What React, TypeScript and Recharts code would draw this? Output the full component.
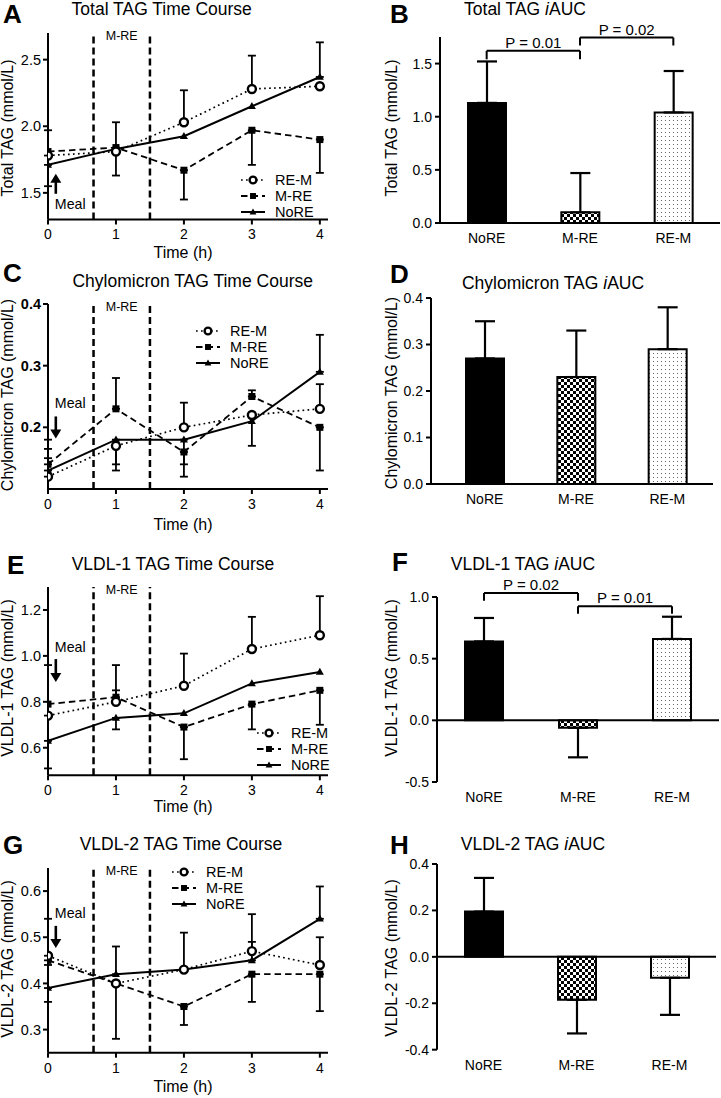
import React from "react";
import {
  LineChart,
  Line,
  BarChart,
  Bar,
  Cell,
  XAxis,
  YAxis,
  ErrorBar,
  ReferenceLine,
  ReferenceArea,
  ReferenceDot,
  Legend,
} from "recharts";

const FONT = '"Liberation Sans", Arial, Helvetica, sans-serif';
const INK = "#000";

// time points (h) and trial conditions
const TIME = [0, 1, 2, 3, 4];
const GROUPS = ["NoRE", "M-RE", "RE-M"];
const EXERCISE = [0.67, 1.5]; // M-RE exercise bout (h)
const MEAL_AT = 0.115;

// A - total TAG time course (mmol/L), mean with visible SEM (up / down)
const TOTAL_REM = [1.78, 1.81, 2.03, 2.28, 2.3];
const TOTAL_REM_UP = [0.19, 0, 0.24, 0.25, 0];
const TOTAL_REM_DN = [0, 0.18, 0, 0, 0];
const TOTAL_MRE = [1.81, 1.84, 1.67, 1.97, 1.9];
const TOTAL_MRE_UP = [0, 0.19, 0, 0, 0];
const TOTAL_MRE_DN = [0, 0, 0.22, 0.26, 0.25];
const TOTAL_NORE = [1.71, 1.83, 1.925, 2.15, 2.37];
const TOTAL_NORE_UP = [0, 0, 0, 0, 0.26];
const TOTAL_NORE_DN = [0.16, 0, 0, 0, 0];

// C - chylomicron TAG
const CHYLO_REM = [0.12, 0.17, 0.2, 0.22, 0.23];
const CHYLO_REM_UP = [0.03, 0, 0.04, 0, 0.04];
const CHYLO_REM_DN = [0, 0.04, 0, 0.05, 0];
const CHYLO_MRE = [0.14, 0.23, 0.16, 0.25, 0.2];
const CHYLO_MRE_UP = [0.04, 0.05, 0, 0.01, 0];
const CHYLO_MRE_DN = [0, 0, 0.04, 0, 0.07];
const CHYLO_NORE = [0.13, 0.18, 0.18, 0.21, 0.29];
const CHYLO_NORE_UP = [0.035, 0, 0, 0, 0.06];
const CHYLO_NORE_DN = [0, 0.04, 0.04, 0, 0];

// E - VLDL-1 TAG
const V1_REM = [0.74, 0.8, 0.87, 1.03, 1.09];
const V1_REM_UP = [0.22, 0.16, 0.14, 0.14, 0.17];
const V1_REM_DN = [0, 0, 0, 0, 0];
const V1_MRE = [0.79, 0.82, 0.69, 0.79, 0.85];
const V1_MRE_UP = [0, 0.03, 0, 0, 0];
const V1_MRE_DN = [0, 0, 0.14, 0.11, 0.15];
const V1_NORE = [0.63, 0.73, 0.75, 0.88, 0.93];
const V1_NORE_UP = [0, 0, 0, 0, 0];
const V1_NORE_DN = [0.12, 0.05, 0, 0, 0];

// G - VLDL-2 TAG
const V2_REM = [0.46, 0.4, 0.43, 0.47, 0.44];
const V2_REM_UP = [0.08, 0, 0.08, 0.08, 0.06];
const V2_REM_DN = [0, 0.12, 0, 0, 0];
const V2_MRE = [0.45, 0.4, 0.35, 0.42, 0.42];
const V2_MRE_UP = [0, 0, 0, 0, 0];
const V2_MRE_DN = [0.01, 0, 0.04, 0.06, 0.08];
const V2_NORE = [0.39, 0.42, 0.43, 0.45, 0.54];
const V2_NORE_UP = [0, 0.06, 0, 0.04, 0.07];
const V2_NORE_DN = [0.03, 0, 0, 0, 0];

// iAUC bars (NoRE, M-RE, RE-M) and SEM
const TOTAL_AUC = [1.13, 0.1, 1.04];
const TOTAL_AUC_ERR = [0.39, 0.37, 0.39];
const CHYLO_AUC = [0.27, 0.23, 0.29];
const CHYLO_AUC_ERR = [0.08, 0.1, 0.09];
const V1_AUC = [0.64, -0.06, 0.66];
const V1_AUC_ERR = [0.19, 0.24, 0.18];
const V2_AUC = [0.195, -0.185, -0.09];
const V2_AUC_ERR = [0.145, 0.145, 0.16];

const TOTAL_P = ["P = 0.01", "P = 0.02"];
const V1_P = ["P = 0.02", "P = 0.01"];

const SERIES = [
  { key: "rem", name: "RE-M", dash: "1.7 3.3", width: 1.7, marker: "circle" },
  { key: "mre", name: "M-RE", dash: "6.5 4", width: 1.8, marker: "square" },
  { key: "nore", name: "NoRE", dash: undefined, width: 2, marker: "triangle" },
];

const BAR_FILLS = [INK, "url(#checker)", "url(#dots)"];

const LINE_PANELS = [
  {
    letter: "A", letterPos: [3, 13.5], title: "Total TAG Time Course", titlePos: [161.7, 9.5],
    yLabel: "Total TAG (mmol/L)", yLabelPos: [8, 127.5], xLabelY: 253,
    plotTop: 32.5, plotBottom: 219, domain: [1.3, 2.7], ticks: [1.5, 2.0, 2.5],
    mealY: 1.643, mealDir: "up", mealLen: 20, legend: [241, 172], boldTicks: false,
    series: {
      rem: [TOTAL_REM, TOTAL_REM_UP, TOTAL_REM_DN],
      mre: [TOTAL_MRE, TOTAL_MRE_UP, TOTAL_MRE_DN],
      nore: [TOTAL_NORE, TOTAL_NORE_UP, TOTAL_NORE_DN],
    },
  },
  {
    letter: "C", letterPos: [3, 272.5], title: "Chylomicron TAG Time Course", titlePos: [192.7, 281.7],
    yLabel: "Chylomicron TAG (mmol/L)", yLabelPos: [8, 395], xLabelY: 525,
    plotTop: 304, plotBottom: 489, domain: [0.1, 0.4], ticks: [0.2, 0.3, 0.4],
    mealY: 0.182, mealDir: "down", mealLen: 22, legend: [196, 323], boldTicks: true,
    series: {
      rem: [CHYLO_REM, CHYLO_REM_UP, CHYLO_REM_DN],
      mre: [CHYLO_MRE, CHYLO_MRE_UP, CHYLO_MRE_DN],
      nore: [CHYLO_NORE, CHYLO_NORE_UP, CHYLO_NORE_DN],
    },
  },
  {
    letter: "E", letterPos: [7, 565], title: "VLDL-1 TAG Time Course", titlePos: [173, 565],
    yLabel: "VLDL-1 TAG (mmol/L)", yLabelPos: [8, 678], xLabelY: 806.5,
    plotTop: 586.7, plotBottom: 775, domain: [0.48, 1.3], ticks: [0.6, 0.8, 1.0, 1.2],
    mealY: 0.886, mealDir: "down", mealLen: 23, legend: [257, 725], boldTicks: false,
    series: {
      rem: [V1_REM, V1_REM_UP, V1_REM_DN],
      mre: [V1_MRE, V1_MRE_UP, V1_MRE_DN],
      nore: [V1_NORE, V1_NORE_UP, V1_NORE_DN],
    },
  },
  {
    letter: "G", letterPos: [3, 845], title: "VLDL-2 TAG Time Course", titlePos: [181, 845],
    yLabel: "VLDL-2 TAG (mmol/L)", yLabelPos: [8, 959], xLabelY: 1086.5,
    plotTop: 868.3, plotBottom: 1053, domain: [0.25, 0.65], ticks: [0.3, 0.4, 0.5, 0.6],
    mealY: 0.477, mealDir: "down", mealLen: 22, legend: [172, 864], boldTicks: false,
    series: {
      rem: [V2_REM, V2_REM_UP, V2_REM_DN],
      mre: [V2_MRE, V2_MRE_UP, V2_MRE_DN],
      nore: [V2_NORE, V2_NORE_UP, V2_NORE_DN],
    },
  },
];

const BAR_PANELS = [
  {
    letter: "B", letterPos: [390, 13.5], title: "Total TAG", titlePos: [525, 9.5],
    yLabel: "Total TAG (mmol/L)", yLabelPos: [391.7, 127.5],
    plotLeft: 440, plotRight: 720, plotTop: 36.7, plotBottom: 222.7, padLeft: 0,
    domain: [0, 1.75], ticks: [0, 0.5, 1.0, 1.5], zeroLine: false,
    values: TOTAL_AUC, errs: TOTAL_AUC_ERR,
    brackets: [
      { from: "NoRE", to: "M-RE", y: 1.62, leg: 1.54, p: TOTAL_P[0] },
      { from: "M-RE", to: "RE-M", y: 1.745, leg: 1.67, p: TOTAL_P[1] },
    ],
  },
  {
    letter: "D", letterPos: [390, 273.5], title: "Chylomicron TAG", titlePos: [553, 283.3],
    yLabel: "Chylomicron TAG (mmol/L)", yLabelPos: [391.7, 392.5],
    plotLeft: 431, plotRight: 713, plotTop: 298.3, plotBottom: 484.3, padLeft: 8,
    domain: [0, 0.4], ticks: [0, 0.1, 0.2, 0.3, 0.4], zeroLine: false,
    values: CHYLO_AUC, errs: CHYLO_AUC_ERR, brackets: [],
  },
  {
    letter: "F", letterPos: [392, 562], title: "VLDL-1 TAG", titlePos: [523, 565],
    yLabel: "VLDL-1 TAG (mmol/L)", yLabelPos: [391.7, 678],
    plotLeft: 437, plotRight: 719, plotTop: 597.3, plotBottom: 782.3, padLeft: 0,
    domain: [-0.5, 1.0], ticks: [-0.5, 0, 0.5, 1.0], zeroLine: true,
    values: V1_AUC, errs: V1_AUC_ERR,
    brackets: [
      { from: "NoRE", to: "M-RE", y: 1.032, leg: 0.97, p: V1_P[0] },
      { from: "M-RE", to: "RE-M", y: 0.924, leg: 0.865, p: V1_P[1] },
    ],
  },
  {
    letter: "H", letterPos: [390, 845], title: "VLDL-2 TAG", titlePos: [533, 845],
    yLabel: "VLDL-2 TAG (mmol/L)", yLabelPos: [391.7, 958],
    plotLeft: 437, plotRight: 716, plotTop: 864.3, plotBottom: 1050, padLeft: 0,
    domain: [-0.4, 0.4], ticks: [-0.4, -0.2, 0, 0.2, 0.4], zeroLine: true,
    values: V2_AUC, errs: V2_AUC_ERR, brackets: [],
  },
];

function Marker({ kind, cx, cy, small }: any) {
  const k = small ? 0.85 : 1;
  if (kind === "circle")
    return <circle cx={cx} cy={cy} r={4 * k} fill="#fff" stroke={INK} strokeWidth={2.4} />;
  if (kind === "square")
    return <rect x={cx - 3.5 * k} y={cy - 3.5 * k} width={7 * k} height={7 * k} fill={INK} />;
  return (
    <path
      d={`M${cx},${cy - 4.2 * k}L${cx + 4 * k},${cy + 2.8 * k}L${cx - 4 * k},${cy + 2.8 * k}Z`}
      fill={INK}
    />
  );
}

function LegendBox() {
  return (
    <div style={{ fontFamily: FONT, fontSize: 14.5, color: INK }}>
      {SERIES.map((s) => (
        <div key={s.key} style={{ display: "flex", alignItems: "center", height: 16 }}>
          <svg width={24} height={14} style={{ marginRight: 10, display: "block" }}>
            <line x1={0} x2={24} y1={7} y2={7} stroke={INK} strokeWidth={s.width} strokeDasharray={s.dash} />
            <Marker kind={s.marker} cx={12} cy={7} small />
          </svg>
          <span style={{ lineHeight: "16px" }}>{s.name}</span>
        </div>
      ))}
    </div>
  );
}

function mealArrow(dir: string, len: number) {
  return (p: any) => {
    const { cx, cy } = p;
    const s = dir === "up" ? 1 : -1;
    const head = 9;
    const hw = 5.5;
    const textY = dir === "up" ? cy + 35 : cy - 30;
    return (
      <g>
        <line x1={cx} x2={cx} y1={cy + s * (head - 1)} y2={cy + s * len} stroke={INK} strokeWidth={2.6} />
        <path d={`M${cx},${cy}L${cx - hw},${cy + s * head}L${cx + hw},${cy + s * head}Z`} fill={INK} />
        <text x={cx - 1} y={textY} fontSize={14.2} fontFamily={FONT} fill={INK}>
          Meal
        </text>
      </g>
    );
  };
}

function Txt({ x, y, size, children, anchor = "middle", weight = "normal", rotate = false }: any) {
  const w = 320;
  const style: any = {
    position: "absolute",
    top: y - size / 2,
    height: size,
    lineHeight: `${size}px`,
    fontSize: size,
    fontWeight: weight,
    whiteSpace: "nowrap",
    fontFamily: FONT,
    color: INK,
  };
  if (anchor === "start") {
    style.left = x;
  } else {
    style.left = x - w / 2;
    style.width = w;
    style.textAlign = "center";
  }
  if (rotate) style.transform = "rotate(-90deg)";
  return <div style={style}>{children}</div>;
}

const fmt = (v: number) => v.toFixed(1);

function LinePanel({ cfg }: any) {
  const top = cfg.plotTop - 30;
  const height = cfg.plotBottom - top + 30;
  const rows = TIME.map((t, i) => {
    const row: any = { t };
    SERIES.forEach((s) => {
      const [v, up, dn] = cfg.series[s.key];
      row[s.key] = v[i];
      row[s.key + "Err"] = up[i] || dn[i] ? [dn[i], up[i]] : null;
    });
    return row;
  });
  const tickStyle = { fill: INK, fontSize: 14, fontFamily: FONT };
  return (
    <>
      <div style={{ position: "absolute", left: 0, top }}>
        <LineChart width={340} height={height} data={rows} margin={{ top: 30, right: 12, bottom: 0, left: 8 }}>
          <XAxis
            dataKey="t"
            type="number"
            domain={[0, 4.12]}
            ticks={TIME}
            allowDataOverflow
            height={30}
            tickSize={5}
            tickMargin={5}
            axisLine={{ stroke: INK, strokeWidth: 2 }}
            tickLine={{ stroke: INK, strokeWidth: 2 }}
            tick={tickStyle}
          />
          <YAxis
            type="number"
            domain={cfg.domain}
            ticks={cfg.ticks}
            allowDataOverflow
            width={40}
            tickSize={5}
            tickMargin={2}
            tickFormatter={fmt}
            axisLine={{ stroke: INK, strokeWidth: 2 }}
            tickLine={{ stroke: INK, strokeWidth: 2 }}
            tick={{ ...tickStyle, fontSize: 14.5, fontWeight: cfg.boldTicks ? "bold" : "normal" }}
          />
          <ReferenceArea
            x1={EXERCISE[0]}
            x2={EXERCISE[1]}
            fillOpacity={0}
            stroke="none"
            ifOverflow="visible"
            label={{ value: "M-RE", position: "insideTop", offset: -2, fontSize: 12.5, fill: INK, fontFamily: FONT }}
          />
          {EXERCISE.map((x) => (
            <ReferenceLine key={x} x={x} stroke={INK} strokeWidth={2.5} strokeDasharray="7 4" />
          ))}
          <ReferenceDot
            x={MEAL_AT}
            y={cfg.mealY}
            r={0}
            ifOverflow="visible"
            shape={mealArrow(cfg.mealDir, cfg.mealLen)}
          />
          {[...SERIES].reverse().map((s) => (
            <Line
              key={s.key}
              dataKey={s.key}
              name={s.name}
              stroke={INK}
              strokeWidth={s.width}
              strokeDasharray={s.dash}
              dot={(p: any) => <Marker key={`${s.key}-${p.index}`} kind={s.marker} cx={p.cx} cy={p.cy} />}
              activeDot={false}
              isAnimationActive={false}
            >
              <ErrorBar dataKey={s.key + "Err"} width={4} stroke={INK} strokeWidth={1.8} direction="y" isAnimationActive={false} />
            </Line>
          ))}
          <Legend
            layout="vertical"
            align="center"
            verticalAlign="middle"
            content={() => <LegendBox />}
            wrapperStyle={{ left: cfg.legend[0], top: cfg.legend[1] - top, width: 90, height: 48 }}
          />
        </LineChart>
      </div>
      <Txt x={cfg.letterPos[0]} y={cfg.letterPos[1]} size={26} anchor="start" weight="bold">
        {cfg.letter}
      </Txt>
      <Txt x={cfg.titlePos[0]} y={cfg.titlePos[1]} size={17.5}>
        {cfg.title}
      </Txt>
      <Txt x={cfg.yLabelPos[0]} y={cfg.yLabelPos[1]} size={16} rotate>
        {cfg.yLabel}
      </Txt>
      <Txt x={183} y={cfg.xLabelY} size={16}>
        Time (h)
      </Txt>
    </>
  );
}

function BarPanel({ cfg }: any) {
  const left = 360;
  const top = cfg.plotTop - 30;
  const height = cfg.plotBottom - top + 30;
  const rows = GROUPS.map((g, i) => ({
    g,
    v: cfg.values[i],
    err: cfg.values[i] >= 0 ? [0, cfg.errs[i]] : [cfg.errs[i], 0],
  }));
  const tickStyle = { fill: INK, fontSize: 14, fontFamily: FONT };
  return (
    <>
      <div style={{ position: "absolute", left, top }}>
        <BarChart
          width={cfg.plotRight - left}
          height={height}
          data={rows}
          barSize={38}
          margin={{ top: 30, right: 0, bottom: 0, left: cfg.plotLeft - left - 40 }}
        >
          <XAxis
            dataKey="g"
            height={30}
            padding={{ left: cfg.padLeft, right: 0 }}
            tickSize={6}
            tickMargin={4}
            tickLine={false}
            axisLine={cfg.zeroLine ? false : { stroke: INK, strokeWidth: 2 }}
            tick={tickStyle}
          />
          <YAxis
            type="number"
            domain={cfg.domain}
            ticks={cfg.ticks}
            allowDataOverflow
            width={40}
            tickSize={5}
            tickMargin={3}
            tickFormatter={fmt}
            axisLine={{ stroke: INK, strokeWidth: 2 }}
            tickLine={{ stroke: INK, strokeWidth: 2 }}
            tick={tickStyle}
          />
          {cfg.zeroLine && <ReferenceLine y={0} stroke={INK} strokeWidth={2} />}
          <Bar dataKey="v" stroke={INK} strokeWidth={2} isAnimationActive={false}>
            {rows.map((r, i) => (
              <Cell key={r.g} fill={BAR_FILLS[i]} />
            ))}
            <ErrorBar dataKey="err" width={10} stroke={INK} strokeWidth={2.2} direction="y" isAnimationActive={false} />
          </Bar>
          {cfg.brackets.map((b: any) => (
            <React.Fragment key={b.p + b.from}>
              <ReferenceLine
                segment={[{ x: b.from, y: b.y }, { x: b.to, y: b.y }]}
                stroke={INK}
                strokeWidth={2}
                ifOverflow="visible"
                label={{ value: b.p, position: "top", offset: 3, fontSize: 15, fill: INK, fontFamily: FONT }}
              />
              <ReferenceLine segment={[{ x: b.from, y: b.y }, { x: b.from, y: b.leg }]} stroke={INK} strokeWidth={2} ifOverflow="visible" />
              <ReferenceLine segment={[{ x: b.to, y: b.y }, { x: b.to, y: b.leg }]} stroke={INK} strokeWidth={2} ifOverflow="visible" />
            </React.Fragment>
          ))}
        </BarChart>
      </div>
      <Txt x={cfg.letterPos[0]} y={cfg.letterPos[1]} size={26} anchor="start" weight="bold">
        {cfg.letter}
      </Txt>
      <Txt x={cfg.titlePos[0]} y={cfg.titlePos[1]} size={17.5}>
        {cfg.title} <i>i</i>AUC
      </Txt>
      <Txt x={cfg.yLabelPos[0]} y={cfg.yLabelPos[1]} size={16} rotate>
        {cfg.yLabel}
      </Txt>
    </>
  );
}

function PatternDefs() {
  return (
    <svg width={0} height={0} style={{ position: "absolute" }}>
      <defs>
        <pattern id="checker" width={6} height={6} patternUnits="userSpaceOnUse">
          <rect width={6} height={6} fill="#fff" />
          <rect width={3} height={3} fill={INK} />
          <rect x={3} y={3} width={3} height={3} fill={INK} />
        </pattern>
        <pattern id="dots" width={4} height={4} patternUnits="userSpaceOnUse">
          <rect width={4} height={4} fill="#fff" />
          <rect x={1} y={1} width={1} height={1} fill="#666" />
        </pattern>
      </defs>
    </svg>
  );
}

export default function App() {
  return (
    <div
      style={{
        position: "absolute",
        left: 0,
        top: 0,
        width: 721,
        height: 1098,
        background: "#fff",
        overflow: "hidden",
        fontFamily: FONT,
      }}
    >
      <PatternDefs />
      {LINE_PANELS.map((p) => (
        <LinePanel key={p.letter} cfg={p} />
      ))}
      {BAR_PANELS.map((p) => (
        <BarPanel key={p.letter} cfg={p} />
      ))}
    </div>
  );
}
